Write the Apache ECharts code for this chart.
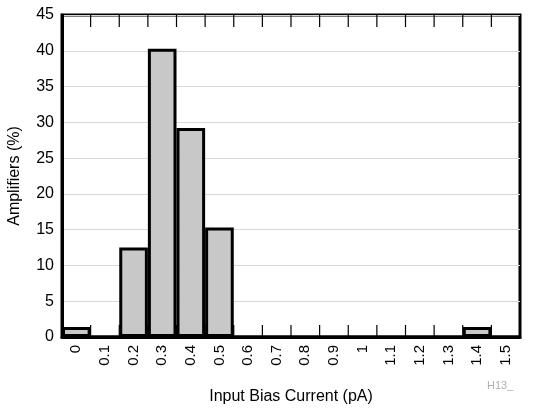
<!DOCTYPE html>
<html><head><meta charset="utf-8">
<script src="https://cdn.jsdelivr.net/npm/echarts@6/dist/echarts.min.js"></script>
<style>html,body{margin:0;padding:0;background:#fff}#c{width:546px;height:409px}</style>
</head><body><div id="c"></div>
<script>
const categories = ['0','0.1','0.2','0.3','0.4','0.5','0.6','0.7','0.8','0.9','1','1.1','1.2','1.3','1.4','1.5'];
const amplifiers = [1.4,0,12.5,40.3,29.2,15.3,0,0,0,0,0,0,0,0,1.4,0];
const yTicks = {min:0,max:45,interval:5};
const FONT = 'Liberation Sans';
const TICK_LEN = 12;
const edgeIndex = categories.slice(1).map((_, i) => i + 1);
const chart = echarts.init(document.getElementById('c'));
chart.setOption({
  animation:false,
  textStyle:{fontFamily:FONT},
  grid:{left:62,right:26,top:15,bottom:72,outerBoundsMode:'none',containLabel:false,show:true,borderColor:'#000',borderWidth:3,backgroundColor:'transparent'},
  xAxis:{
    type:'category',data:categories,boundaryGap:true,z:5,
    axisLine:{show:true,onZero:false,lineStyle:{color:'#000',width:3}},
    axisTick:{show:false},
    axisLabel:{rotate:90,color:'#000',fontSize:15,margin:8,interval:0,fontFamily:FONT},
    name:'Input Bias Current (pA)',nameLocation:'middle',nameGap:52,
    nameTextStyle:{color:'#000',fontSize:16,fontFamily:FONT}
  },
  yAxis:{
    type:'value',min:yTicks.min,max:yTicks.max,interval:yTicks.interval,
    axisLine:{show:true,lineStyle:{color:'#000',width:3}},
    axisTick:{show:false},
    axisLabel:{color:'#000',fontSize:16,margin:8,fontFamily:FONT},
    splitLine:{show:true,lineStyle:{color:'#d9d9d9',width:1}},
    name:'Amplifiers (%)',nameLocation:'middle',nameGap:39,
    nameTextStyle:{color:'#000',fontSize:16,fontFamily:FONT}
  },
  series:[{
    type:'bar',data:amplifiers,barCategoryGap:'0%',
    itemStyle:{color:'#c8c8c8',borderColor:'#000',borderWidth:3},
    z:3
  },{
    type:'custom',z:6,clip:false,silent:true,
    data:edgeIndex.map(i => [i, yTicks.min, yTicks.max]),
    encode:{x:0,y:[1,2]},
    renderItem:function(params, api){
      const half = api.size([1,0])[0] / 2;
      const b = api.coord([api.value(0), api.value(1)]);
      const t = api.coord([api.value(0), api.value(2)]);
      const x = b[0] - half;
      const st = {stroke:'#000',lineWidth:1.2};
      return {type:'group',children:[
        {type:'line',shape:{x1:x,y1:b[1],x2:x,y2:b[1]-TICK_LEN},style:st},
        {type:'line',shape:{x1:x,y1:t[1],x2:x,y2:t[1]+TICK_LEN},style:st}
      ]};
    }
  }],
  graphic:[{type:'text',left:487,top:380,style:{text:'H13_',fill:'#b0b0b0',fontSize:11,fontFamily:FONT}}]
});
</script></body></html>
